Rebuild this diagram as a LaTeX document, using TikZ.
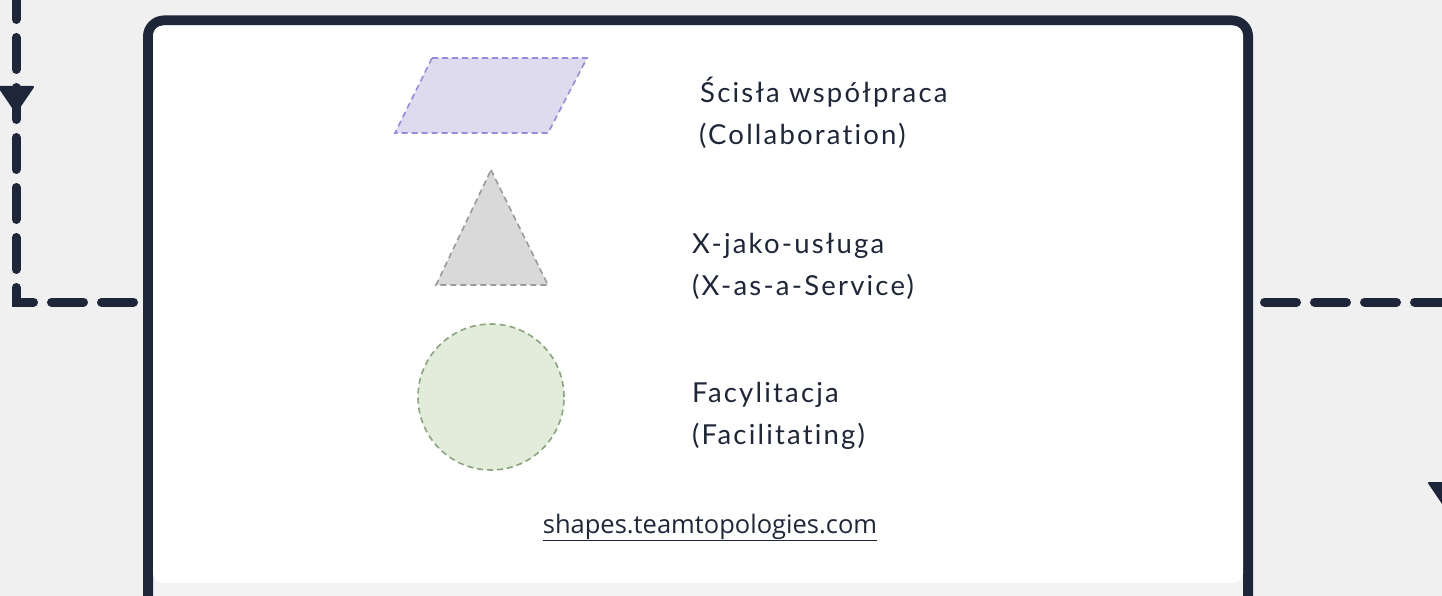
\documentclass[tikz,border=0pt]{standalone}
\usepackage{fontspec}
\usetikzlibrary{calc}
\setmainfont{Lato}[LetterSpace=8, Ligatures=NoCommon]
\newfontfamily\urlfont{Open Sans}
\definecolor{navy}{HTML}{1E2639}
\definecolor{bgc}{HTML}{F0F0F0}
\definecolor{cardbot}{HTML}{F3F3F3}
\definecolor{lavfill}{HTML}{DEDBEE}
\definecolor{lavline}{HTML}{9C88E2}
\definecolor{grayfill}{HTML}{D9D9D9}
\definecolor{grayline}{HTML}{9A9A9A}
\definecolor{greenfill}{HTML}{E1EDDA}
\definecolor{greenline}{HTML}{8AA47E}
\tikzset{
  conn/.style={draw=navy, line width=9pt, line cap=round, dash pattern=on 32pt off 18pt},
  tip/.style={fill=navy, draw=navy, line width=2pt, line join=round},
  lbl/.style={anchor=base west, inner sep=0pt, text=navy, font=\fontsize{27.5}{33}\selectfont},
  shp/.style={dashed, line width=1.6pt, dash pattern=on 6pt off 4pt},
}
\begin{document}
\begin{tikzpicture}[x=1pt,y=-1pt]
\useasboundingbox (0,0) rectangle (1442,596);
\fill[bgc] (0,0) rectangle (1442,596);
\begin{scope}
\clip (0,0) rectangle (1442,596);
% outer frame
\draw[navy, line width=10pt, fill=cardbot, rounded corners=16pt] (148,20.5) rectangle (1248,640);
\fill[white, rounded corners=10pt] (153,25.5) rectangle (1243,583);
\coordinate (boxL) at (143,302);
\coordinate (boxR) at (1253,302);
% left connector
\coordinate (lstart) at (16,-12.5);
\coordinate (lbend) at (16,302);
\draw[conn] (lstart) -- (lbend) -- (boxL);
\coordinate (larr) at (16,112);
\draw[tip] ($(larr)+(-17,-25)$) -- ($(larr)+(17,-25)$) -- (larr) -- cycle;
% right connector
\coordinate (rstart) at (1264.5,302);
\coordinate (rbend) at (1446,302);
\coordinate (rend) at (1446,640);
\draw[conn] (rstart) -- (rbend) -- (rend);
\coordinate (rarr) at (1446,508);
\draw[tip] ($(rarr)+(-17,-25)$) -- ($(rarr)+(17,-25)$) -- (rarr) -- cycle;
\end{scope}
% shapes
\draw[shp, draw=lavline, fill=lavfill] (432,58) -- (587,58) -- (548,133) -- (395,133) -- cycle;
\draw[shp, draw=grayline, fill=grayfill] (491,170) -- (548,285) -- (436,285) -- cycle;
\node[shp, draw=greenline, fill=greenfill, circle, minimum size=146pt, inner sep=0pt] (circ) at (491,397) {};
% labels
\node[lbl] (t1) at (700,103) {Ścisła współpraca};
\node[lbl] (t1b) at (699,145) {(Collaboration)};
\node[lbl] (t2) at (692,253) {X-jako-usługa};
\node[lbl] (t2b) at (692,295) {(X-as-a-Service)};
\node[lbl] (t3) at (692,402) {Facylitacja};
\node[lbl] (t3b) at (692,444) {(Facilitating)};
\node[anchor=base, inner sep=0pt, text=navy] (url) at (710,533) {\urlfont\fontsize{25.5}{30}\selectfont\underline{shapes.teamtopologies.com}};
\end{tikzpicture}
\end{document}
